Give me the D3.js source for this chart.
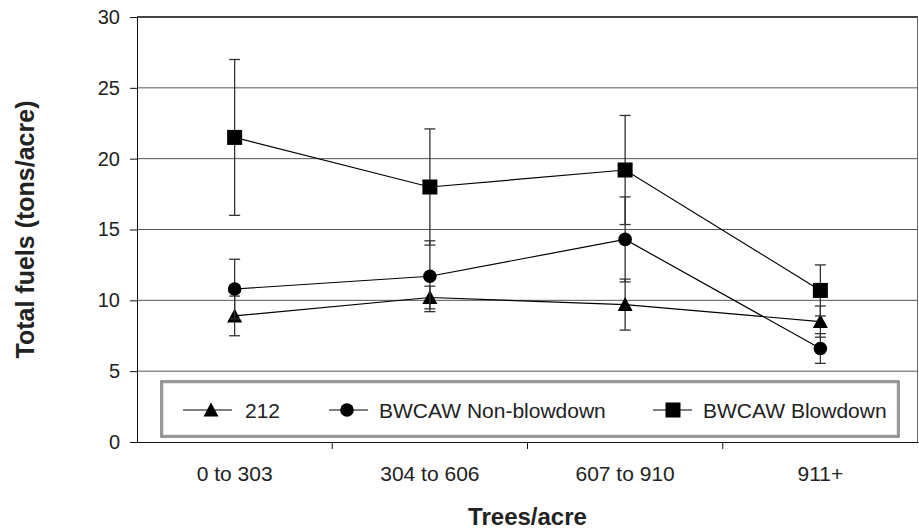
<!DOCTYPE html>
<html>
<head>
<meta charset="utf-8">
<script src="https://cdn.jsdelivr.net/npm/d3@7"></script>
<style>
  body { margin: 0; background: #fff; }
  text { font-family: "Liberation Sans", Arial, sans-serif; fill: #222; }
</style>
</head>
<body>
<svg id="chart" width="919" height="532"></svg>
<script>
// categories on the x axis
const categories = ["0 to 303", "304 to 606", "607 to 910", "911+"];
const yTicks = [0, 5, 10, 15, 20, 25, 30];

// series means and error (+/-)
const values212 = [8.9, 10.2, 9.7, 8.5];
const err212 = [1.4, 0.8, 1.8, 1.1];
const valuesNonBlow = [10.8, 11.7, 14.3, 6.6];
const errNonBlow = [2.1, 2.5, 3.0, 1.05];
const valuesBlow = [21.5, 18.0, 19.2, 10.7];
const errBlow = [5.5, 4.1, 3.85, 1.8];

const seriesNames = ["212", "BWCAW Non-blowdown", "BWCAW Blowdown"];

const MARGINS = { top: 17, right: 1, bottom: 90, left: 137 };
const WIDTH = 919, HEIGHT = 532;

const svg = d3.select("#chart");

const xScale = d3.scaleBand()
  .domain(categories)
  .range([MARGINS.left, WIDTH - MARGINS.right]);

const yScale = d3.scaleLinear()
  .domain([0, 30])
  .range([HEIGHT - MARGINS.bottom, MARGINS.top]);

const xMid = d => xScale(d) + xScale.bandwidth() / 2;

// gridlines
svg.append("g")
  .selectAll("line")
  .data(yTicks.filter(t => t > 0 && t < 30))
  .join("line")
  .attr("x1", MARGINS.left).attr("x2", WIDTH - MARGINS.right)
  .attr("y1", d => yScale(d)).attr("y2", d => yScale(d))
  .attr("stroke", "#555").attr("stroke-width", 1);

// frame top + right
svg.append("line")
  .attr("x1", MARGINS.left).attr("x2", WIDTH - MARGINS.right)
  .attr("y1", yScale(30)).attr("y2", yScale(30))
  .attr("stroke", "#444").attr("stroke-width", 2);
svg.append("line")
  .attr("x1", WIDTH - 1.5).attr("x2", WIDTH - 1.5)
  .attr("y1", yScale(30)).attr("y2", yScale(0))
  .attr("stroke", "#666").attr("stroke-width", 1);

// axes
const yAxis = d3.axisLeft(yScale).tickValues(yTicks).tickSize(7).tickPadding(10);
const yG = svg.append("g")
  .attr("transform", `translate(${MARGINS.left},0)`)
  .call(yAxis);
yG.selectAll("text").style("font-size", "20px").attr("fill", "#222");
yG.selectAll("line, path").attr("stroke", "#111");

const xAxis = d3.axisBottom(xScale).tickSize(0).tickPadding(24);
const xG = svg.append("g")
  .attr("transform", `translate(0,${yScale(0)})`)
  .call(xAxis);
xG.selectAll("text").style("font-size", "21px").attr("fill", "#222");
xG.select("path").attr("stroke", "#111");
// category boundary ticks
xG.selectAll("line.bound")
  .data(categories.slice(1))
  .join("line")
  .attr("class", "bound")
  .attr("x1", d => xScale(d))
  .attr("x2", d => xScale(d))
  .attr("y1", 0).attr("y2", 7)
  .attr("stroke", "#111");

// axis titles
svg.append("text")
  .attr("x", (MARGINS.left + WIDTH - MARGINS.right) / 2)
  .attr("y", 525)
  .attr("text-anchor", "middle")
  .style("font-size", "24px").style("font-weight", "bold")
  .text("Trees/acre");

svg.append("text")
  .attr("transform", `translate(34,${(yScale(0) + yScale(30)) / 2}) rotate(-90)`)
  .attr("text-anchor", "middle")
  .style("font-size", "25px").style("font-weight", "bold")
  .text("Total fuels (tons/acre)");

// marker drawing
function drawMarker(g, shape, x, y) {
  if (shape === "square") {
    g.append("rect").attr("x", x - 7.5).attr("y", y - 7.5)
      .attr("width", 15).attr("height", 15).attr("fill", "#000");
  } else if (shape === "circle") {
    g.append("circle").attr("cx", x).attr("cy", y).attr("r", 6.8).attr("fill", "#000");
  } else {
    g.append("path")
      .attr("d", `M${x},${y - 7.5}L${x + 7.5},${y + 6.5}L${x - 7.5},${y + 6.5}Z`)
      .attr("fill", "#000");
  }
}

const series = [
  { name: seriesNames[0], values: values212, errs: err212, shape: "triangle" },
  { name: seriesNames[1], values: valuesNonBlow, errs: errNonBlow, shape: "circle" },
  { name: seriesNames[2], values: valuesBlow, errs: errBlow, shape: "square" }
];

const line = d3.line()
  .x((d, i) => xMid(categories[i]))
  .y(d => yScale(d));

series.forEach(s => {
  const g = svg.append("g");
  // error bars
  s.values.forEach((v, i) => {
    const x = xMid(categories[i]);
    const hi = yScale(v + s.errs[i]), lo = yScale(v - s.errs[i]);
    g.append("line").attr("x1", x).attr("x2", x).attr("y1", hi).attr("y2", lo)
      .attr("stroke", "#333").attr("stroke-width", 1.3);
    [hi, lo].forEach(yy => {
      g.append("line").attr("x1", x - 5.5).attr("x2", x + 5.5).attr("y1", yy).attr("y2", yy)
        .attr("stroke", "#333").attr("stroke-width", 1.3);
    });
  });
  g.append("path").datum(s.values)
    .attr("d", line).attr("fill", "none")
    .attr("stroke", "#000").attr("stroke-width", 1.2);
  s.values.forEach((v, i) => drawMarker(g, s.shape, xMid(categories[i]), yScale(v)));
});

// legend
const legend = svg.append("g");
legend.append("rect")
  .attr("x", 161).attr("y", 381).attr("width", 738).attr("height", 56)
  .attr("fill", "#fff").attr("stroke", "#333").attr("stroke-width", 1);
legend.append("rect")
  .attr("x", 162.5).attr("y", 382.5).attr("width", 735).attr("height", 53)
  .attr("fill", "none").attr("stroke", "#999").attr("stroke-width", 1.5);

const legendItems = [
  { shape: "triangle", x1: 183, x2: 232, mx: 211, tx: 245 },
  { shape: "circle", x1: 329, x2: 368, mx: 347, tx: 379 },
  { shape: "square", x1: 653, x2: 692, mx: 673, tx: 703 }
];
const ly = 410;
legendItems.forEach((it, i) => {
  legend.append("line").attr("x1", it.x1).attr("x2", it.x2)
    .attr("y1", ly).attr("y2", ly).attr("stroke", "#000").attr("stroke-width", 1.2);
  drawMarker(legend, it.shape, it.mx, ly);
  legend.append("text").attr("x", it.tx).attr("y", ly + 7.5)
    .style("font-size", "21px").text(series[i].name);
});
</script>
</body>
</html>
